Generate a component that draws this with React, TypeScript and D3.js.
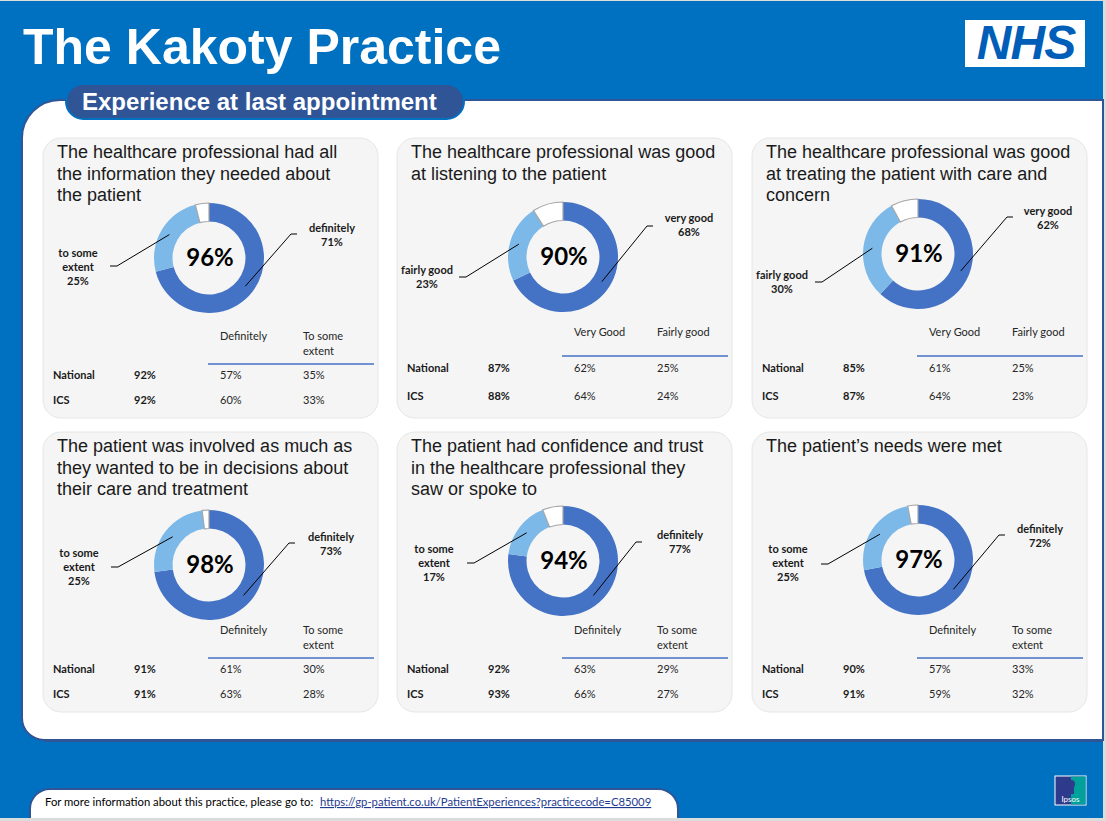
import React from 'react';
import * as d3 from 'd3';

// ---------- data ----------
const titles: string[][] = [
  ['The healthcare professional had all', 'the information they needed about', 'the patient'],
  ['The healthcare professional was good', 'at listening to the patient'],
  ['The healthcare professional was good', 'at treating the patient with care and', 'concern'],
  ['The patient was involved as much as', 'they wanted to be in decisions about', 'their care and treatment'],
  ['The patient had confidence and trust', 'in the healthcare professional they', 'saw or spoke to'],
  ['The patient\u2019s needs were met'],
];
const totalPct = [96, 90, 91, 98, 94, 97];
const firstPct = [71, 68, 62, 73, 77, 72];
const secondPct = [25, 23, 30, 25, 17, 25];
const firstLabel = ['definitely', 'very good', 'very good', 'definitely', 'definitely', 'definitely'];
const secondLabel: string[][] = [
  ['to some', 'extent'], ['fairly good'], ['fairly good'], ['to some', 'extent'], ['to some', 'extent'], ['to some', 'extent'],
];
const colHeader1: string[][] = [['Definitely'], ['Very Good'], ['Very Good'], ['Definitely'], ['Definitely'], ['Definitely']];
const colHeader2: string[][] = [
  ['To some', 'extent'], ['Fairly good'], ['Fairly good'], ['To some', 'extent'], ['To some', 'extent'], ['To some', 'extent'],
];
const rowNames = ['National', 'ICS'];
const nationalTotal = [92, 87, 85, 91, 92, 90];
const nationalFirst = [57, 62, 61, 61, 63, 57];
const nationalSecond = [35, 25, 25, 30, 29, 33];
const icsTotal = [92, 88, 87, 91, 93, 91];
const icsFirst = [60, 64, 64, 63, 66, 59];
const icsSecond = [33, 24, 23, 28, 27, 32];

const pageTitle = 'The Kakoty Practice';
const sectionTitle = 'Experience at last appointment';
const footerText = 'For more information about this practice, please go to:';
const footerLink = 'https://gp-patient.co.uk/PatientExperiences?practicecode=C85009';

// ---------- layout ----------
const W = 1106;
const H = 821;
const panelCols = [43, 397, 752];
const panelRows = [138, 432];
const PW = 335;
const PH = 280;
const donutDy = [120, 119, 116, 133, 129, 128];
const rightLabelPos = [[123, -26], [126, -35], [130, -39], [122, -24], [117, -22], [122, -27]];
const rightLeaderPos = [[88, -24], [90, -31], [95, -37], [86, -22], [79, -19], [87, -25]];
const leftLabelPos = [[-131, -1], [-136, 17], [-136, 25], [-130, -8], [-129, -8], [-130, -7]];
const leftLeaderPos = [[-99, 8], [-104, 20], [-103, 28], [-98, 2], [-96, 2], [-97, 4]];

const DARK = '#4472C4';
const LIGHT = '#7CB9E8';
const BLUE_BG = '#0070C0';
const NAVY = '#2F5597';
const SANS = '"Liberation Sans", Arial, sans-serif';
const CAL = 'Lato, "Noto Sans", sans-serif';

const R_OUT = 55;
const R_IN = 36.5;

function Panel({ i }: { i: number }) {
  const px = panelCols[i % 3];
  const py = panelRows[Math.floor(i / 3)];
  const cx = px + 166;
  const cy = py + donutDy[i];
  const rest = 100 - firstPct[i] - secondPct[i];
  const pie = d3.pie<number>().sort(null).value((d) => d).startAngle(0).endAngle(2 * Math.PI);
  const arcs = pie([firstPct[i], secondPct[i], rest]);
  const arc = d3.arc<d3.PieArcDatum<number>>().innerRadius(R_IN).outerRadius(R_OUT);
  const mid = d3.arc<d3.PieArcDatum<number>>().innerRadius(46).outerRadius(46);
  const fills = [DARK, LIGHT, '#FFFFFF'];
  const c0 = mid.centroid(arcs[0]);
  const c1 = mid.centroid(arcs[1]);
  const line = d3.line();
  const rl = rightLeaderPos[i];
  const ll = leftLeaderPos[i];
  const rightPath = line([[cx + rl[0], cy + rl[1]], [cx + rl[0] - 6, cy + rl[1]], [cx + c0[0], cy + c0[1]]]);
  const leftPath = line([[cx + ll[0], cy + ll[1]], [cx + ll[0] + 7, cy + ll[1]], [cx + c1[0], cy + c1[1]]]);
  const twoLine = colHeader2[i].length > 1;
  const headerY = py + (twoLine ? 202 : 198);
  const lineY = py + (twoLine ? 226 : 218);
  const rowY = twoLine ? [241, 266] : [234, 262];
  const rows = [
    [nationalTotal[i], nationalFirst[i], nationalSecond[i]],
    [icsTotal[i], icsFirst[i], icsSecond[i]],
  ];
  const leftLines = [...secondLabel[i], `${secondPct[i]}%`];
  return (
    <g>
      <rect x={px} y={py} width={PW} height={PH} rx={18} fill="#F5F5F5" stroke="#E6E6E6" strokeWidth={1} />
      {titles[i].map((t, k) => (
        <text key={k} x={px + 14} y={py + 20 + k * 21.5} fontFamily={SANS} fontSize={18} fill="#1A1A1A">
          {t}
        </text>
      ))}
      {arcs.map((a, k) => (
        <path
          key={k}
          d={arc(a) || ''}
          transform={`translate(${cx},${cy})`}
          fill={fills[k]}
          stroke={k === 2 ? '#A6A6A6' : 'none'}
          strokeWidth={k === 2 ? 1.2 : 0}
        />
      ))}
      <text x={cx + 1} y={cy + 8} textAnchor="middle" fontFamily={CAL} fontWeight={700} fontSize={24} fill="#000">
        {`${totalPct[i]}%`}
      </text>
      <path d={rightPath || ''} fill="none" stroke="#000" strokeWidth={1} />
      <path d={leftPath || ''} fill="none" stroke="#000" strokeWidth={1} />
      {[firstLabel[i], `${firstPct[i]}%`].map((t, k) => (
        <text key={k} x={cx + rightLabelPos[i][0]} y={cy + rightLabelPos[i][1] + k * 14} textAnchor="middle"
          fontFamily={CAL} fontWeight={700} fontSize={11} fill="#1A1A1A">{t}</text>
      ))}
      {leftLines.map((t, k) => (
        <text key={k} x={cx + leftLabelPos[i][0]} y={cy + leftLabelPos[i][1] + k * 14} textAnchor="middle"
          fontFamily={CAL} fontWeight={700} fontSize={11} fill="#1A1A1A">{t}</text>
      ))}
      {colHeader1[i].map((t, k) => (
        <text key={'h1' + k} x={px + 177} y={headerY + k * 15} fontFamily={CAL} fontSize={11} fill="#262626">{t}</text>
      ))}
      {colHeader2[i].map((t, k) => (
        <text key={'h2' + k} x={px + 260} y={headerY + k * 15} fontFamily={CAL} fontSize={11} fill="#262626">{t}</text>
      ))}
      <line x1={px + 165} x2={px + 331} y1={lineY} y2={lineY} stroke={DARK} strokeWidth={1.5} />
      {rows.map((r, k) => (
        <g key={k}>
          <text x={px + 10} y={py + rowY[k]} fontFamily={CAL} fontWeight={700} fontSize={11} fill="#1A1A1A">{rowNames[k]}</text>
          <text x={px + 91} y={py + rowY[k]} fontFamily={CAL} fontWeight={700} fontSize={11} fill="#1A1A1A">{`${r[0]}%`}</text>
          <text x={px + 177} y={py + rowY[k]} fontFamily={CAL} fontSize={11} fill="#262626">{`${r[1]}%`}</text>
          <text x={px + 260} y={py + rowY[k]} fontFamily={CAL} fontSize={11} fill="#262626">{`${r[2]}%`}</text>
        </g>
      ))}
    </g>
  );
}

export default function App() {
  const L = 22, T = 100, R = 1103, B = 740, rTop = 38, rBot = 22;
  const whitePath = `M${L + rTop},${T} L${R},${T} L${R},${B} L${L + rBot},${B} A${rBot},${rBot} 0 0 1 ${L},${B - rBot} L${L},${T + rTop} A${rTop},${rTop} 0 0 1 ${L + rTop},${T} Z`;
  const fL = 30, fR = 678, fT = 789, fB = 818, fr = 20;
  const footerPath = `M${fL},${fB} L${fL},${fT + fr} A${fr},${fr} 0 0 1 ${fL + fr},${fT} L${fR - fr},${fT} A${fr},${fr} 0 0 1 ${fR},${fT + fr} L${fR},${fB}`;
  return (
    <svg width={W} height={H} style={{ position: 'absolute', left: 0, top: 0, display: 'block' }}>
      <rect x={0} y={0} width={W} height={H} fill="#DCDCDC" />
      <rect x={0} y={1} width={1103} height={817} fill={BLUE_BG} />
      <path d={whitePath} fill="#FFFFFF" stroke={NAVY} strokeWidth={2} />
      <line x1={L + rBot} x2={R} y1={B + 1} y2={B + 1} stroke={NAVY} strokeWidth={2} />
      <text x={23} y={64} fontFamily={SANS} fontWeight={700} fontSize={50} fill="#FFFFFF">{pageTitle}</text>
      <rect x={66} y={84} width={398} height={35} rx={17.5} fill={NAVY} stroke={BLUE_BG} strokeWidth={2} />
      <text x={82} y={110} fontFamily={SANS} fontWeight={700} fontSize={24} fill="#FFFFFF">{sectionTitle}</text>
      <rect x={965} y={20} width={120} height={47} fill="#FFFFFF" />
      <text x={1026} y={59} textAnchor="middle" fontFamily={SANS} fontWeight={700} fontStyle="italic" fontSize={48}
        fill="#005EB8" letterSpacing={-1}>NHS</text>
      {d3.range(6).map((i) => <Panel key={i} i={i} />)}
      <path d={footerPath} fill="#FFFFFF" stroke={NAVY} strokeWidth={2} />
      <text x={45} y={806} fontFamily={CAL} fontSize={11.3} fill="#000">{footerText}</text>
      <text x={320} y={806} fontFamily={CAL} fontSize={11.3} fill="#1F3B8F" textDecoration="underline">{footerLink}</text>
      <g>
        <rect x={1055} y={776} width={31} height={29} fill="#2E3A8C" stroke="#FFFFFF" strokeWidth={1} />
        <rect x={1071} y={776.5} width={14.5} height={28} fill="#00A19A" />
        <circle cx={1071} cy={784} r={4} fill="#2E3A8C" />
        <rect x={1069} y={786} width={5} height={8} fill="#2E3A8C" />
        <text x={1070.5} y={802} textAnchor="middle" fontFamily={CAL} fontSize={8} fill="#FFFFFF">Ipsos</text>
      </g>
    </svg>
  );
}
